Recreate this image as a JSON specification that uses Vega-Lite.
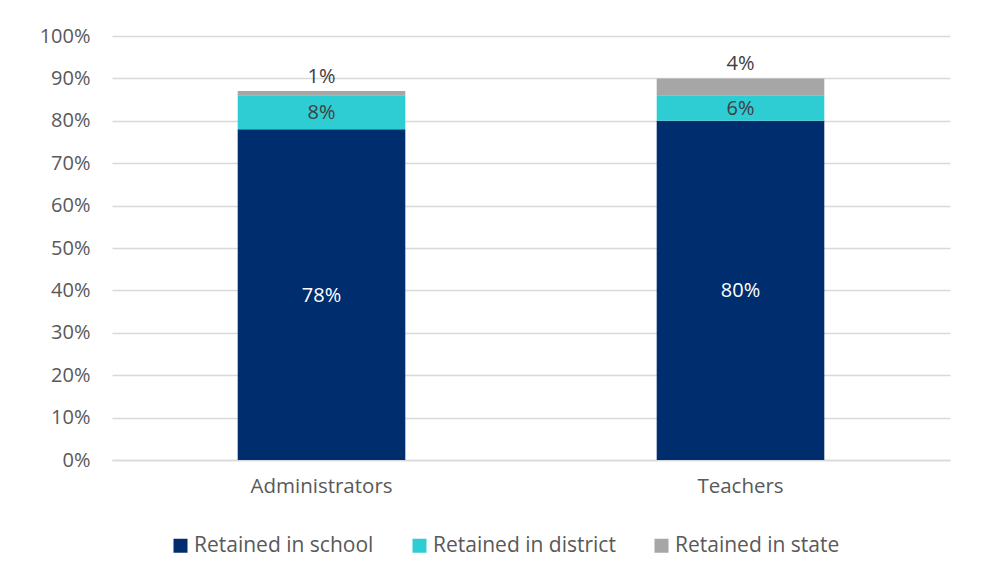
{
  "$schema": "https://vega.github.io/schema/vega-lite/v6.json",
  "width": 838,
  "height": 424,
  "autosize": {"type": "none"},
  "padding": {"left": 112, "top": 36, "right": 33, "bottom": 120},
  "background": "white",
  "config": {
    "view": {"stroke": null},
    "font": "Open Sans"
  },
  "data": {
    "values": [
      {"group": "Administrators", "cat": "Retained in school", "v": 0.78, "ord": 1},
      {"group": "Administrators", "cat": "Retained in district", "v": 0.08, "ord": 2},
      {"group": "Administrators", "cat": "Retained in state", "v": 0.01, "ord": 3},
      {"group": "Teachers", "cat": "Retained in school", "v": 0.80, "ord": 1},
      {"group": "Teachers", "cat": "Retained in district", "v": 0.06, "ord": 2},
      {"group": "Teachers", "cat": "Retained in state", "v": 0.04, "ord": 3}
    ]
  },
  "transform": [
    {"stack": "v", "groupby": ["group"], "sort": [{"field": "ord"}], "as": ["v0", "v1"]},
    {"calculate": "(datum.v0 + datum.v1) / 2", "as": "mid"}
  ],
  "encoding": {
    "x": {
      "field": "group",
      "type": "nominal",
      "title": null,
      "scale": {"paddingInner": 0.6, "paddingOuter": 0.3},
      "axis": {
        "labelAngle": 0,
        "labelFontSize": 20.5,
        "labelColor": "#595959",
        "labelPadding": 16,
        "ticks": false,
        "domainColor": "#d9d9d9",
        "domainWidth": 1.5
      }
    }
  },
  "layer": [
    {
      "mark": {"type": "bar"},
      "encoding": {
        "y": {
          "field": "v0",
          "type": "quantitative",
          "title": null,
          "scale": {"domain": [0, 1]},
          "axis": {
            "format": ".0%",
            "values": [0, 0.1, 0.2, 0.3, 0.4, 0.5, 0.6, 0.7, 0.8, 0.9, 1.0],
            "labelOverlap": false,
            "labelFontSize": 20,
            "labelColor": "#595959",
            "labelPadding": 22,
            "ticks": false,
            "domain": false,
            "gridColor": "#d9d9d9",
            "gridWidth": 1.5
          }
        },
        "y2": {"field": "v1"},
        "color": {
          "field": "cat",
          "type": "nominal",
          "scale": {
            "domain": ["Retained in school", "Retained in district", "Retained in state"],
            "range": ["#002d6e", "#2ecdd4", "#a6a6a6"]
          },
          "legend": {
            "title": null,
            "orient": "none",
            "direction": "horizontal",
            "legendX": 58,
            "legendY": 499,
            "symbolType": "square",
            "symbolSize": 196,
            "symbolStrokeWidth": 0,
            "labelFontSize": 21,
            "labelColor": "#595959",
            "labelOffset": 3,
            "labelLimit": 400,
            "columnPadding": 35
          }
        }
      }
    },
    {
      "transform": [{"filter": "datum.cat != 'Retained in state'"}],
      "mark": {"type": "text", "fontSize": 20, "baseline": "middle", "dy": 1},
      "encoding": {
        "y": {"field": "mid", "type": "quantitative"},
        "text": {"field": "v", "type": "quantitative", "format": ".0%"},
        "color": {
          "condition": {"test": "datum.cat == 'Retained in school'", "value": "white"},
          "value": "#404040"
        }
      }
    },
    {
      "transform": [{"filter": "datum.cat == 'Retained in state'"}],
      "mark": {"type": "text", "fontSize": 20, "baseline": "bottom", "dy": -4, "color": "#404040"},
      "encoding": {
        "y": {"field": "v1", "type": "quantitative"},
        "text": {"field": "v", "type": "quantitative", "format": ".0%"}
      }
    }
  ]
}
